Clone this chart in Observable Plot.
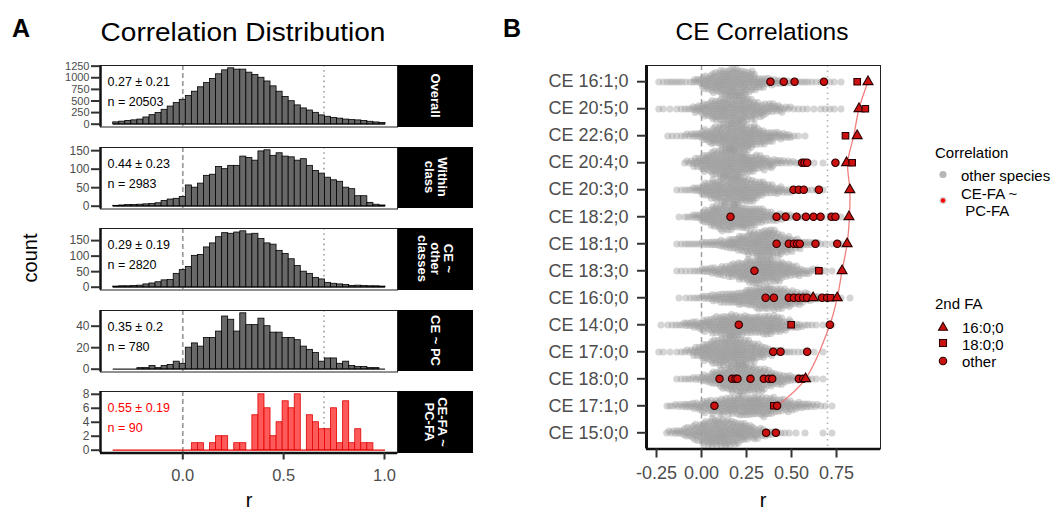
<!DOCTYPE html>
<html><head><meta charset="utf-8">
<script src="https://cdn.jsdelivr.net/npm/d3@7"></script>
<script src="https://cdn.jsdelivr.net/npm/@observablehq/plot@0.6"></script>
<style>
body{margin:0;background:#fff;}
#root{position:relative;width:1051px;height:512px;overflow:hidden;font-family:"Liberation Sans",Arial,Helvetica,sans-serif;background:#fff;color:#000;}
#root > *{position:absolute;}
.lbl{line-height:1;white-space:pre;}
.strip{background:#000;display:flex;align-items:center;justify-content:center;}
.strip span{transform:rotate(90deg);color:#fff;font-weight:bold;font-size:13px;line-height:1.0;text-align:center;white-space:pre;}
</style></head>
<body><div id="root"></div>
<script>
// ---------------- DATA ----------------
// Panel A: histograms, 45 bins of width 0.03 starting at -0.345
const binStart = -0.345;
const binWidth = 0.03;
const facetNames = ["Overall", "Within\nclass", "CE ~\nother\nclasses", "CE ~ PC", "CE-FA ~\nPC-FA"];
const facetStats = ["0.27 ± 0.21", "0.44 ± 0.23", "0.29 ± 0.19", "0.35 ± 0.2", "0.55 ± 0.19"];
const facetN = [20503, 2983, 2820, 780, 90];
const countsOverall = [40,55,70,83,100,145,195,240,310,380,455,525,610,700,795,885,975,1075,1160,1204,1175,1175,1110,1060,1000,920,815,700,585,495,405,340,295,245,190,160,135,120,100,88,82,68,52,38,26];
const countsWithin = [1,2,3,3,4,5,6,8,14,18,20,25,56,50,61,82,85,106,100,109,109,134,130,123,148,151,136,143,134,132,123,127,109,95,88,77,70,66,50,46,27,27,9,4,2];
const countsCEOther = [2,3,3,4,5,9,12,16,22,23,43,55,65,101,104,128,141,161,174,172,176,180,170,172,155,141,137,117,107,90,68,50,43,30,25,14,11,9,7,4,5,4,3,3,2];
const countsCEPC = [0,0,0,0,1,1,3,1,3,4,7,5,20,24,21,29,29,35,49,46,35,52,41,41,47,40,34,34,29,29,27,21,18,15,7,10,10,5,7,3,2,2,1,1,0];
const countsCEFA = [0,0,0,0,0,0,0,0,0,0,0,0,0,1,1,0,1,2,2,0,1,1,0,5,8,6,2,4,7,6,8,0,5,4,3,3,6,1,7,1,3,1,1,0,0];
const yTicksA = [[0,250,500,750,1000,1250],[0,50,100,150],[0,50,100,150],[0,20,40],[0,2,4,6,8]];
const xTicksA = [0, 0.5, 1];

// Panel B
const ceSpecies = ["CE 16:1;0","CE 20:5;0","CE 22:6;0","CE 20:4;0","CE 20:3;0","CE 18:2;0","CE 18:1;0","CE 18:3;0","CE 16:0;0","CE 14:0;0","CE 17:0;0","CE 18:0;0","CE 17:1;0","CE 15:0;0"];
// gray "other species" correlations: counts per 0.05-wide bin starting at -0.30 (24 bins), one row per species
const grayBinStart = -0.30;
const grayBinWidth = 0.05;
const grayCounts = [
  [0,2,3,3,2,6,14,20,26,28,26,20,12,8,6,4,3,3,2,2,2,1,0,0],
  [0,2,1,2,3,8,14,20,24,26,24,20,14,10,8,4,2,2,1,2,2,1,0,0],
  [0,0,2,2,4,6,12,18,24,28,30,24,16,12,8,6,2,1,0,0,0,0,0,0],
  [0,0,0,0,4,10,18,24,28,28,24,18,14,10,6,4,3,2,1,1,0,0,0,0],
  [0,0,0,2,3,6,14,20,24,28,26,22,16,10,8,5,3,2,2,1,0,0,0,0],
  [0,0,0,1,3,6,14,22,26,26,24,20,16,10,8,5,3,2,1,1,1,1,0,0],
  [0,0,0,2,3,3,5,6,8,12,16,22,26,28,22,16,10,6,4,2,1,1,0,0],
  [0,0,0,2,2,3,6,8,10,14,18,24,26,24,20,14,10,6,4,2,1,1,0,0],
  [0,0,0,1,2,3,5,8,10,12,14,18,22,24,22,18,14,10,6,3,2,1,1,0],
  [0,1,2,3,6,8,12,16,20,22,20,18,18,20,16,10,6,3,2,1,1,0,0,0],
  [0,2,1,2,4,10,18,24,28,30,26,20,14,8,5,3,2,2,1,1,0,0,0,0],
  [0,0,0,2,3,4,8,14,20,24,28,26,22,16,12,8,5,3,2,1,0,0,0,0],
  [0,0,3,4,6,8,12,14,16,18,20,20,20,18,14,12,8,6,4,2,1,0,0,0],
  [0,0,4,6,10,16,24,28,28,24,20,14,10,6,3,2,1,1,0,1,1,0,0,0]
];
// red "CE-FA ~ PC-FA" correlations
const redSpecies = [
  "CE 16:1;0","CE 16:1;0","CE 16:1;0","CE 16:1;0","CE 16:1;0","CE 16:1;0",
  "CE 20:5;0","CE 20:5;0",
  "CE 22:6;0","CE 22:6;0",
  "CE 20:4;0","CE 20:4;0","CE 20:4;0","CE 20:4;0","CE 20:4;0","CE 20:4;0",
  "CE 20:3;0","CE 20:3;0","CE 20:3;0","CE 20:3;0","CE 20:3;0",
  "CE 18:2;0","CE 18:2;0","CE 18:2;0","CE 18:2;0","CE 18:2;0","CE 18:2;0","CE 18:2;0","CE 18:2;0","CE 18:2;0","CE 18:2;0",
  "CE 18:1;0","CE 18:1;0","CE 18:1;0","CE 18:1;0","CE 18:1;0","CE 18:1;0","CE 18:1;0","CE 18:1;0",
  "CE 18:3;0","CE 18:3;0","CE 18:3;0",
  "CE 16:0;0","CE 16:0;0","CE 16:0;0","CE 16:0;0","CE 16:0;0","CE 16:0;0","CE 16:0;0","CE 16:0;0","CE 16:0;0","CE 16:0;0","CE 16:0;0","CE 16:0;0",
  "CE 14:0;0","CE 14:0;0","CE 14:0;0",
  "CE 17:0;0","CE 17:0;0","CE 17:0;0",
  "CE 18:0;0","CE 18:0;0","CE 18:0;0","CE 18:0;0","CE 18:0;0","CE 18:0;0","CE 18:0;0","CE 18:0;0","CE 18:0;0","CE 18:0;0","CE 18:0;0",
  "CE 17:1;0","CE 17:1;0","CE 17:1;0",
  "CE 15:0;0","CE 15:0;0"
];
const redR = [
  0.383,0.457,0.517,0.680,0.865,0.925,
  0.875,0.910,
  0.800,0.865,
  0.559,0.572,0.587,0.744,0.806,0.837,
  0.511,0.540,0.568,0.652,0.824,
  0.161,0.417,0.467,0.528,0.580,0.622,0.661,0.722,0.744,0.819,
  0.417,0.485,0.513,0.531,0.546,0.633,0.754,0.809,
  0.294,0.652,0.781,
  0.356,0.402,0.485,0.513,0.540,0.565,0.587,0.620,0.670,0.698,0.717,0.754,
  0.207,0.498,0.713,
  0.398,0.439,0.587,
  0.100,0.170,0.189,0.200,0.272,0.346,0.374,0.393,0.541,0.565,0.578,
  0.072,0.402,0.420,
  0.359,0.413
];
const redFA = [
  "other","other","other","other","18:0;0","16:0;0",
  "16:0;0","18:0;0",
  "18:0;0","16:0;0",
  "other","other","other","other","16:0;0","18:0;0",
  "other","other","other","other","16:0;0",
  "other","other","other","other","other","other","other","other","other","16:0;0",
  "other","other","other","other","other","other","other","16:0;0",
  "other","18:0;0","16:0;0",
  "other","other","other","other","other","other","other","16:0;0","other","other","18:0;0","16:0;0",
  "other","18:0;0","other",
  "other","other","other",
  "other","other","other","other","other","other","other","other","other","other","16:0;0",
  "other","18:0;0","other",
  "other","other"
];
const trendSpecies = ["CE 17:1;0","CE 18:0;0","CE 14:0;0","CE 16:0;0","CE 18:3;0","CE 18:1;0","CE 18:2;0","CE 20:3;0","CE 20:4;0","CE 22:6;0","CE 20:5;0","CE 16:1;0"];
const trendR = [0.42,0.578,0.713,0.754,0.781,0.809,0.822,0.824,0.812,0.846,0.875,0.925];
const xTicksB = [-0.25, 0, 0.25, 0.5, 0.75];
const faNames = ["16:0;0","18:0;0","other"];

// ---------------- LAYOUT ----------------
const FONT = '"Liberation Sans", Arial, Helvetica, sans-serif';
const root = document.getElementById("root");
function put(el, left, top) { el.style.left = left + "px"; el.style.top = top + "px"; root.appendChild(el); return el; }
function label(txt, x, yc, size, css = "") {
  const d = document.createElement("div");
  d.className = "lbl";
  d.textContent = txt;
  d.style.cssText += `font-size:${size}px;` + css;
  return put(d, x, yc - 0.49 * size);
}

// ---------------- PANEL A ----------------
const xDomA = [-0.408, 1.0645];
const panelTops = [65, 146.6, 228.2, 309.8, 391.4];
const panelH = 61.5;
const countsA = [countsOverall, countsWithin, countsCEOther, countsCEPC, countsCEFA];

countsA.forEach((counts, p) => {
  const last = p === countsA.length - 1;
  const col = last ? "red" : "black";
  const bins = counts.map((c, k) => ({x1: binStart + k * binWidth, x2: binStart + (k + 1) * binWidth, c}));
  const M = d3.max(counts);
  const yDom = [-0.05 * M, 1.05 * M];
  const mt = 4, mb = last ? 44 : 4;
  const marks = [
    Plot.ruleX([0], {stroke: "#9a9a9a", strokeWidth: 1.7, strokeDasharray: "5,3"}),
    Plot.ruleX([0.7], {stroke: "#aaa", strokeWidth: 1.8, strokeDasharray: "1.6,3.6"}),
    Plot.ruleY([0], {x1: bins[0].x1, x2: bins[bins.length - 1].x2, stroke: last ? "#e00" : "#222", strokeWidth: 1.2}),
    Plot.rectY(bins, {x1: "x1", x2: "x2", y: "c", insetLeft: 0, insetRight: 0,
      fill: last ? "#ff5a5a" : "#686868", stroke: last ? "#e00000" : "#000", strokeWidth: 0.8}),
    Plot.text([`${facetStats[p]}\nn = ${facetN[p]}`], {frameAnchor: "top-left", dx: 7, dy: 6.5, lineHeight: 1.6,
      fontSize: 12.5, fill: col, textAnchor: "start"}),
    Plot.frame({stroke: "#222", strokeWidth: 1}),
    Plot.ruleX([xDomA[0]], {stroke: "#111", strokeWidth: 2.5}),
    Plot.axisY({ticks: yTicksA[p], tickFormat: (d) => String(d), tickSize: 9, tickPadding: 2,
      fontSize: p === 0 ? 11 : 12, stroke: "#333", strokeWidth: 2, fill: "#4d4d4d", label: null})
  ];
  if (last) {
    marks.push(Plot.ruleY([yDom[0]], {stroke: "#111", strokeWidth: 2.5}));
    marks.push(Plot.axisX({ticks: xTicksA, tickFormat: (d) => d.toFixed(1), tickSize: 7, tickPadding: 9,
      fontSize: 16.5, stroke: "#333", strokeWidth: 2, fill: "#4d4d4d", label: null}));
  }
  const chart = Plot.plot({
    width: 399, height: panelH + mt + mb,
    marginLeft: 100, marginRight: 2, marginTop: mt, marginBottom: mb,
    style: {background: "transparent", fontFamily: FONT, overflow: "visible"},
    x: {domain: xDomA, axis: last ? undefined : null},
    y: {domain: yDom},
    marks
  });
  put(chart, 0, panelTops[p] - mt);

  const strip = document.createElement("div");
  strip.className = "strip";
  strip.style.width = "75px";
  strip.style.height = panelH + "px";
  const sp = document.createElement("span");
  sp.textContent = facetNames[p];
  strip.appendChild(sp);
  put(strip, 398, panelTops[p]);
});

// ---------------- PANEL B ----------------
const xDomB = [-0.3056, 0.9944];
const W_B = 390, LEFT_B = 500, mlB = 146, mrB = 10, mtB = 65, mbB = 63.5;
const rowStep = (512 - mtB - mbB) / (ceSpecies.length + 0.2);

const gray = [];
ceSpecies.forEach((s, i) => grayCounts[i].forEach((n, b) => {
  for (let j = 0; j < n; j++) gray.push({species: s, r: grayBinStart + (b + (j + 0.5) / n) * grayBinWidth});
}));

// beeswarm packed with a small radius, drawn with a larger disc so the points overlap
const packR = 1.5, drawR = 3.5;
const wideDot = {draw(ctx, size) {
  const rr = Math.sqrt(size / Math.PI) * (drawR / packR);
  ctx.moveTo(rr, 0); ctx.arc(0, 0, rr, 0, 2 * Math.PI); ctx.closePath();
}};

const grayPlot = Plot.plot({
  width: W_B, height: 512,
  marginLeft: mlB, marginRight: mrB, marginTop: mtB + 0.1 * rowStep, marginBottom: mbB + 0.1 * rowStep,
  style: {background: "transparent", fontFamily: FONT, overflow: "visible"},
  x: {domain: xDomB, axis: null},
  fy: {domain: ceSpecies, padding: 0, axis: null},
  facet: {data: gray, y: "species"},
  marks: [
    Plot.dot(gray, Plot.dodgeY({anchor: "middle", padding: 0},
      {x: "r", r: packR, symbol: wideDot, fill: "#9a9a9a", fillOpacity: 0.42, stroke: "none"}))
  ]
});
put(grayPlot, LEFT_B, 0);

const idx = (s) => ceSpecies.indexOf(s);
const red = redR.map((r, i) => ({r, y: idx(redSpecies[i]), fa: redFA[i]}));
const trend = trendR.map((r, i) => ({r, y: idx(trendSpecies[i])}));
const yDomB = [ceSpecies.length - 1 + 0.6, -0.6];

const topPlot = Plot.plot({
  width: W_B, height: 512,
  marginLeft: mlB, marginRight: mrB, marginTop: mtB, marginBottom: mbB,
  style: {background: "transparent", fontFamily: FONT, overflow: "visible"},
  x: {domain: xDomB},
  y: {domain: yDomB},
  symbol: {domain: faNames, range: ["triangle", "square", "circle"]},
  marks: [
    Plot.ruleX([0], {stroke: "#a0a0a0", strokeWidth: 1.5, strokeDasharray: "5,3.5"}),
    Plot.ruleX([0.7], {stroke: "#b0b0b0", strokeWidth: 1.6, strokeDasharray: "1.5,4"}),
    Plot.line(trend, {x: "r", y: "y", curve: "catmull-rom", stroke: "#f07070", strokeWidth: 1.3, strokeOpacity: 0.9}),
    Plot.dot(red, {x: "r", y: "y", symbol: "fa", r: 3.7, fill: "#cc1111", stroke: "#2a0000", strokeWidth: 1.1}),
    Plot.frame({stroke: "#222", strokeWidth: 1}),
    Plot.ruleX([xDomB[0]], {stroke: "#111", strokeWidth: 3}),
    Plot.ruleY([yDomB[0]], {stroke: "#111", strokeWidth: 2.7}),
    Plot.axisX({ticks: xTicksB, tickFormat: (d) => d.toFixed(2), tickSize: 9, tickPadding: 8, fontSize: 18,
      stroke: "#333", strokeWidth: 2, fill: "#4d4d4d", label: null}),
    Plot.axisY({ticks: ceSpecies.map((s, i) => i), tickFormat: (i) => ceSpecies[i], tickSize: 9, tickPadding: 9,
      fontSize: 18, stroke: "#333", strokeWidth: 2, fill: "#4d4d4d", label: null})
  ]
});
put(topPlot, LEFT_B, 0);

// ---------------- TEXT ----------------
label("A", 12, 28, 25, "font-weight:bold;");
label("Correlation Distribution", 243, 32, 25, "transform:translateX(-50%) scaleX(1.12);");
label("B", 503, 28, 25, "font-weight:bold;");
label("CE Correlations", 762, 32, 24.5, "transform:translateX(-50%);");
label("count", 30, 258, 20, "transform:translate(-50%,0) rotate(-90deg);transform-origin:50% 50%;");
label("r", 249, 500, 20, "transform:translateX(-50%);");
label("r", 763, 500, 20, "transform:translateX(-50%);");

// Legend
label("Correlation", 935, 152, 15);
label("other species", 961, 175, 15);
label("CE-FA ~", 961, 193, 15);
label(" PC-FA", 961, 210, 15);
label("2nd FA", 935, 303, 15);
label("16:0;0", 962, 327, 15);
label("18:0;0", 962, 344, 15);
label("other", 962, 361.5, 15);
const lg = document.createElement("div");
lg.innerHTML = `<svg width="30" height="220" xmlns="http://www.w3.org/2000/svg">
  <circle cx="13" cy="14.5" r="3.6" fill="#9c9c9c" fill-opacity="0.75"/>
  <circle cx="13" cy="40.5" r="3.6" fill="#b0b0b0" fill-opacity="0.6"/>
  <circle cx="13" cy="40.5" r="2.2" fill="#ff0000"/>
  <polygon points="8.5,170.3 17.5,170.3 13,162.3" fill="#cc1111" stroke="#2a0000" stroke-width="1.1"/>
  <rect x="9.5" y="179.5" width="7" height="7" fill="#cc1111" stroke="#2a0000" stroke-width="1.1"/>
  <circle cx="13" cy="201" r="3.7" fill="#cc1111" stroke="#2a0000" stroke-width="1.1"/>
</svg>`;
put(lg, 930, 160);
</script>
</body></html>
